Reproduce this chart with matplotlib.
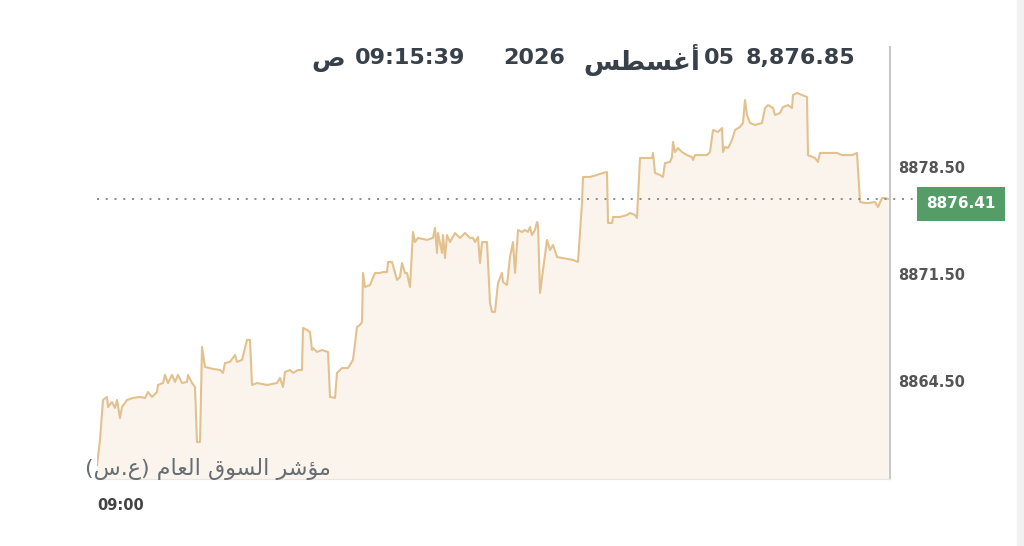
import numpy as np
import matplotlib.pyplot as plt
from matplotlib.transforms import ScaledTranslation

# index readings, minutes after 09:00
minutes = [0, 1.2, 2.4, 4.0, 4.4, 6.0, 7.2, 8.0, 9.2, 10.0, 12.0, 14.4, 17.2, 19.2, 20.4, 22.0,
           24.0, 24.4, 26.4, 27.2, 28.4, 30.0, 31.2, 32.4, 34.0, 36.0, 36.4, 38.0, 39.2, 40.0,
           41.2, 42.0, 43.2, 46.4, 49.2, 50.4, 51.2, 53.2, 55.2, 56.0, 58.0, 60.0, 61.2, 62.0,
           64.0, 68.0, 72.0, 73.2, 74.4, 75.2, 77.2, 78.4, 80.4, 82.0, 82.4, 84.0, 85.2, 86.0,
           86.4, 88.0, 90.0, 92.4, 93.2, 95.2, 96.0, 98.0, 100.4, 102.4, 104.0, 105.2, 106.0,
           106.4, 107.2, 109.2, 111.2, 113.2, 114.4, 116.0, 116.4, 118.0, 119.2, 120.0, 121.2,
           122.0, 123.2, 124.0, 125.2, 126.4, 127.2, 128.4, 132.0, 134.4, 135.2, 136.0, 136.4,
           138.0, 138.4, 139.2, 140.0, 141.2, 143.2, 145.2, 147.2, 149.2, 150.4, 151.2, 152.4,
           153.2, 154.0, 156.0, 157.2, 158.0, 159.2, 160.4, 162.0, 162.4, 164.0, 165.2, 166.4,
           167.2, 168.4, 170.0, 171.2, 172.4, 173.2, 174.0, 175.2, 176.0, 176.4, 177.2, 178.4,
           180.0, 181.2, 182.4, 184.0, 186.0, 190.4, 192.4, 194.0, 194.4, 197.2, 200.0, 202.4,
           204.0, 204.4, 206.0, 206.4, 209.2, 212.0, 213.2, 215.2, 216.0, 217.2, 222.0, 222.4,
           223.2, 225.2, 226.4, 227.2, 229.2, 230.0, 230.4, 231.2, 232.4, 234.0, 236.0, 238.0,
           238.4, 239.2, 244.0, 245.2, 246.4, 248.4, 250.0, 250.4, 251.2, 252.4, 254.0, 255.2,
           257.2, 258.4, 259.2, 260.0, 261.2, 263.2, 266.0, 267.2, 268.4, 270.4, 271.2, 273.2,
           274.4, 276.4, 278.0, 278.4, 280.0, 282.0, 284.0, 284.4, 287.2, 288.4, 289.2, 296.0,
           298.0, 302.0, 304.0, 305.2, 307.2, 309.2, 311.2, 312.4, 314.0, 315.2, 316.4]
values = [8859.01, 8860.65, 8863.26, 8863.46, 8862.80, 8863.13, 8862.74, 8863.26, 8862.08, 8862.80,
          8863.26, 8863.39, 8863.46, 8863.39, 8863.78, 8863.46, 8863.78, 8864.24, 8864.37, 8864.90,
          8864.37, 8864.90, 8864.44, 8864.90, 8864.37, 8864.44, 8864.90, 8864.37, 8864.11, 8860.51,
          8860.51, 8866.73, 8865.42, 8865.29, 8865.22, 8865.03, 8865.68, 8865.75, 8866.20, 8865.75,
          8865.88, 8867.19, 8867.19, 8864.24, 8864.37, 8864.24, 8864.37, 8864.70, 8864.11, 8865.09,
          8865.22, 8865.03, 8865.22, 8865.22, 8867.97, 8867.84, 8867.71, 8866.53, 8866.66, 8866.40,
          8866.53, 8866.40, 8863.46, 8863.39, 8865.03, 8865.35, 8865.35, 8865.88, 8868.04, 8868.17,
          8868.36, 8871.57, 8870.65, 8870.78, 8871.57, 8871.57, 8871.63, 8871.63, 8872.29, 8872.29,
          8871.57, 8871.11, 8871.31, 8872.22, 8871.57, 8871.57, 8870.65, 8874.25, 8873.59, 8873.86,
          8873.73, 8873.86, 8874.51, 8872.88, 8874.18, 8872.88, 8874.05, 8872.55, 8874.05, 8873.59,
          8874.18, 8873.86, 8874.18, 8873.86, 8873.86, 8873.59, 8873.92, 8872.22, 8873.59, 8873.59,
          8869.61, 8869.02, 8869.02, 8870.91, 8871.57, 8870.98, 8870.78, 8872.61, 8873.59, 8871.57,
          8874.38, 8874.25, 8874.38, 8874.25, 8874.58, 8874.05, 8874.38, 8874.90, 8874.71, 8870.26,
          8871.76, 8873.73, 8873.07, 8873.40, 8872.61, 8872.55, 8872.42, 8872.29, 8876.15, 8877.85,
          8877.85, 8877.98, 8878.11, 8878.17, 8874.84, 8874.84, 8875.23, 8875.23, 8875.36, 8875.49,
          8875.36, 8875.16, 8879.09, 8879.09, 8879.42, 8878.11, 8877.98, 8877.85, 8878.76, 8878.83,
          8879.15, 8880.14, 8879.48, 8879.74, 8879.48, 8879.28, 8879.15, 8878.96, 8879.28, 8879.28,
          8879.48, 8880.92, 8880.79, 8881.05, 8879.48, 8879.81, 8879.74, 8880.27, 8880.92, 8881.12,
          8881.38, 8882.88, 8881.90, 8881.38, 8881.25, 8881.38, 8882.36, 8882.55, 8882.36, 8881.90,
          8882.03, 8882.42, 8882.55, 8882.36, 8883.21, 8883.34, 8883.21, 8883.08, 8879.28, 8879.09,
          8878.83, 8879.42, 8879.42, 8879.28, 8879.28, 8879.42, 8876.21, 8876.15, 8876.15, 8876.21,
          8875.88, 8876.47, 8876.47, 8876.41]

last_value = 8876.41
y_ticks = [8864.50, 8871.50, 8878.50]
x_tick_label = "09:00"

header_price = "8,876.85"
header_day = "05"
header_year = "2026"
header_time = "09:15:39"
# matplotlib has no arabic shaping, so the words are written with
# presentation forms in visual (left to right) order
month_ar = "\uFEB2\uFEC4\uFEB4\uFECF\uFE83"          # أغسطس
am_ar = "\uFEB9"                                      # ص
index_name = ("(\uFEB1.\uFEC9) "
              "\uFEE1\uFE8E\uFECC\uFEDF\uFE8D "     # العام
              "\uFED5\uFEEE\uFEB4\uFEDF\uFE8D "     # السوق
              "\uFEAE\uFEB7\uFE86\uFEE3")           # مؤشر

line_color = "#e2c18e"
fill_color = "#fbf4ec"
text_dark = "#38414a"

fig = plt.figure(figsize=(10.24, 5.46), dpi=100)
fig.patch.set_facecolor("white")
ax = fig.add_axes([97/1024, 1 - 479/546, 793/1024, 432/546])

y_bottom, y_top = 8858.09, 8886.35
ax.fill_between(minutes, values, y_bottom, color=fill_color, lw=0)
ax.plot(minutes, values, color=line_color, lw=1.5)
ax.set_xlim(0, 317.2)
ax.set_ylim(y_bottom, y_top)

for s in ["top", "left"]:
    ax.spines[s].set_visible(False)
ax.spines["right"].set_color("#c8c8c8")
ax.spines["right"].set_linewidth(1.5)
ax.spines["bottom"].set_color("#e6e6e6")

ax.yaxis.tick_right()
ax.set_yticks(y_ticks, [f"{v:.2f}" for v in y_ticks])
ax.tick_params(axis="y", length=0, pad=6, labelsize=10.5, labelcolor="#555555")
ax.set_xticks([0], [x_tick_label])
ax.tick_params(axis="x", length=0, pad=14, labelsize=10.5, labelcolor="#444444")
for lbl in ax.get_yticklabels() + ax.get_xticklabels():
    lbl.set_fontweight("bold")
ax.get_xticklabels()[0].set_ha("left")

# current value marker
ax.plot([0, 1.035], [last_value, last_value], transform=ax.get_yaxis_transform(),
        clip_on=False, color="#8a8a8a", lw=1.4, ls=(0, (1, 3.5)))
tag_shift = ax.get_yaxis_transform() + ScaledTranslation(0, -5/100, fig.dpi_scale_trans)
ax.text(1.0895, last_value, f"{last_value:.2f}", transform=tag_shift,
        ha="center", va="center", color="white", fontsize=11, fontweight="bold",
        bbox=dict(boxstyle="square,pad=0.6", fc="#559d66", ec="none"))

# header
hy = 1 - 58/546
fig.text(855/1024, hy, header_price, ha="right", va="center", fontsize=16, fontweight="bold", color=text_dark)
fig.text(735/1024, hy, header_day, ha="right", va="center", fontsize=16, fontweight="bold", color=text_dark)
fig.text(700/1024, hy - 0.004, month_ar, ha="right", va="center", fontsize=19, fontweight="bold", color=text_dark)
fig.text(565/1024, hy, header_year, ha="right", va="center", fontsize=16, fontweight="bold", color=text_dark)
fig.text(465/1024, hy, header_time, ha="right", va="center", fontsize=16, fontweight="bold", color=text_dark)
fig.text(345/1024, hy - 0.004, am_ar, ha="right", va="center", fontsize=18, fontweight="bold", color=text_dark)

fig.text(85/1024, 1 - 469/546, index_name, ha="left", va="center", fontsize=16, color="#666d73")

# light strip at the right edge
fig.patches.append(plt.Rectangle((1017/1024, 0), 7/1024, 1, transform=fig.transFigure,
                                 color="#f2f2f2", zorder=0))

fig.savefig("out.png", dpi=100)
